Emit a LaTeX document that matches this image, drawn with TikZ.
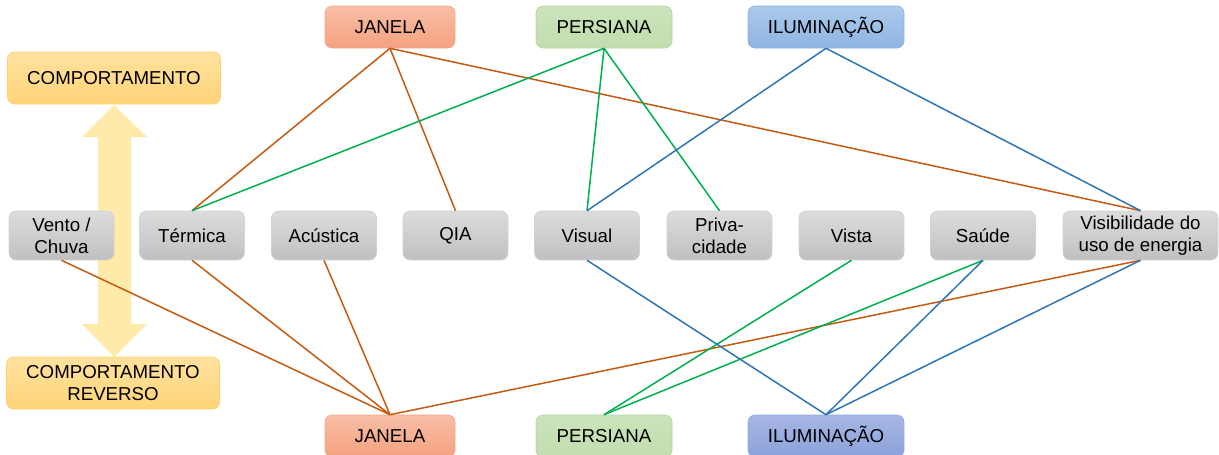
\documentclass[tikz,border=0pt]{standalone}
\usepackage{fontspec}
\setmainfont{Liberation Sans}
\definecolor{cjan1}{HTML}{F8BEA6}\definecolor{cjan2}{HTML}{F4A27F}\definecolor{cjanb}{HTML}{F1A98C}
\definecolor{cper1}{HTML}{CBE4BB}\definecolor{cper2}{HTML}{C2DDAE}\definecolor{cperb}{HTML}{B5D69F}
\definecolor{cilu1}{HTML}{AACAEB}\definecolor{cilu2}{HTML}{90B4E2}\definecolor{cilub}{HTML}{8FB1DD}
\definecolor{cilv1}{HTML}{A6B7E4}\definecolor{cilv2}{HTML}{8CA2D9}
\definecolor{cgr1}{HTML}{DCDCDC}\definecolor{cgr2}{HTML}{C0C0C0}\definecolor{cgrb}{HTML}{D2D2D2}
\definecolor{cco1}{HTML}{FFE29F}\definecolor{cco2}{HTML}{FFD478}\definecolor{ccob}{HTML}{FFD06A}
\definecolor{carrow}{HTML}{FFEAAA}
\definecolor{lor}{HTML}{C55A11}\definecolor{lgr}{HTML}{00B050}\definecolor{lbl}{HTML}{2E75B6}
\tikzset{
  base/.style={rounded corners=7pt, inner sep=0pt, align=center, font=\fontsize{18.7}{22}\selectfont, line width=0.6pt},
  janbox/.style={base, draw=cjanb, top color=cjan1, bottom color=cjan2, minimum width=130, minimum height=42},
  perbox/.style={base, draw=cperb, top color=cper1, bottom color=cper2, minimum width=136, minimum height=42},
  ilubox/.style={base, draw=cilub, top color=cilu1, bottom color=cilu2, minimum width=156, minimum height=42},
  ilvbox/.style={base, draw=cilub, top color=cilv1, bottom color=cilv2, minimum width=156, minimum height=42},
  crit/.style={base, draw=cgrb, top color=cgr1, bottom color=cgr2, minimum width=105, minimum height=49},
  combox/.style={base, draw=ccob, top color=cco1, bottom color=cco2, minimum width=213, minimum height=52},
  ol/.style={lor, line width=1.5pt},
  gl/.style={lgr, line width=1.5pt},
  bl/.style={lbl, line width=1.5pt},
}
\begin{document}
\begin{tikzpicture}[x=1pt,y=-1pt]
\useasboundingbox (0,0) rectangle (1219,455);
\clip (0,0) rectangle (1219,455);
% double block arrow
\fill[carrow] (114,105) -- (147,137) -- (131,137) -- (131,324) -- (147,324) -- (114,357)
  -- (82,324) -- (98,324) -- (98,137) -- (82,137) -- cycle;
% left boxes
\node[combox] (comp) at (114,78) {COMPORTAMENTO};
\node[combox] (rev) at (113,383) {COMPORTAMENTO\\REVERSO};
% top boxes
\node[janbox] (jt) at (390,27) {JANELA};
\node[perbox] (pt) at (604,27) {PERSIANA};
\node[ilubox] (it) at (826,27) {ILUMINAÇÃO};
% bottom boxes
\node[janbox] (jb) at (390,436) {JANELA};
\node[perbox] (pb) at (604,436) {PERSIANA};
\node[ilvbox] (ib) at (826,436) {ILUMINAÇÃO};
% criteria
\node[crit] (vc) at (61.5,235.5) {Vento /\\Chuva};
\node[crit] (te) at (192,235.5) {Térmica};
\node[crit] (ac) at (324,235.5) {Acústica};
\node[crit] (qi) at (455.5,235.5) {QIA};
\node[crit] (vi) at (587,235.5) {Visual};
\node[crit] (pr) at (719.5,235.5) {Priva-\\cidade};
\node[crit] (vs) at (851.5,235.5) {Vista};
\node[crit] (sa) at (983,235.5) {Saúde};
\node[crit, minimum width=155] (ve) at (1140.5,235.5) {Visibilidade do\\uso de energia};
% top connections
\draw[ol] (jt.south) -- (te.north);
\draw[ol] (jt.south) -- (qi.north);
\draw[ol] (jt.south) -- (ve.north);
\draw[gl] (pt.south) -- (te.north);
\draw[gl] (pt.south) -- (vi.north);
\draw[gl] (pt.south) -- (pr.north);
\draw[bl] (it.south) -- (vi.north);
\draw[bl] (it.south) -- (ve.north);
% bottom connections
\draw[ol] (jb.north) -- (vc.south);
\draw[ol] (jb.north) -- (te.south);
\draw[ol] (jb.north) -- (ac.south);
\draw[ol] (jb.north) -- (ve.south);
\draw[gl] (pb.north) -- (vs.south);
\draw[gl] (pb.north) -- (sa.south);
\draw[bl] (ib.north) -- (vi.south);
\draw[bl] (ib.north) -- (sa.south);
\draw[bl] (ib.north) -- (ve.south);
\end{tikzpicture}
\end{document}
